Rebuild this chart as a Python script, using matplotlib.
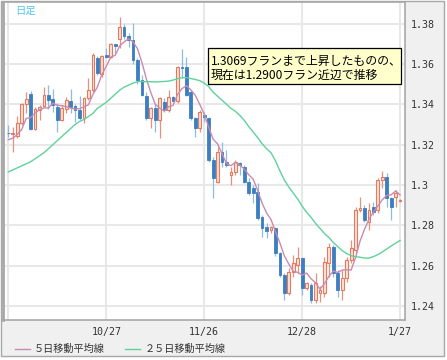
import numpy as np
import pandas as pd
import matplotlib
matplotlib.use("Agg")
import matplotlib.pyplot as plt
from matplotlib.patches import Rectangle

plt.rcParams['font.family'] = ['Noto Sans CJK JP', 'DejaVu Sans']

dates = pd.bdate_range('2020-09-25', '2021-01-27')

opens = [1.3260, 1.3255, 1.3243, 1.3305, 1.3401, 1.3449, 1.3277, 1.3371, 1.3391, 1.3446,
         1.3426, 1.3388, 1.3322, 1.3375, 1.3418, 1.3391, 1.3371, 1.3330, 1.3429, 1.3471,
         1.3631, 1.3550, 1.3644, 1.3636, 1.3697, 1.3722, 1.3784, 1.3738, 1.3718, 1.3619,
         1.3520, 1.3440, 1.3330, 1.3380, 1.3322, 1.3413, 1.3371, 1.3434, 1.3418, 1.3586,
         1.3586, 1.3462, 1.3330, 1.3281, 1.3345, 1.3330, 1.3124, 1.3016, 1.3165, 1.3115,
         1.3049, 1.3066, 1.3107, 1.3091, 1.3016, 1.2983, 1.2967, 1.2843, 1.2790, 1.2777,
         1.2785, 1.2661, 1.2554, 1.2463, 1.2570, 1.2603, 1.2636, 1.2488, 1.2504, 1.2430,
         1.2463, 1.2463, 1.2612, 1.2694, 1.2562, 1.2479, 1.2537, 1.2628, 1.2678, 1.2876,
         1.2884, 1.2818, 1.2892, 1.2876, 1.3024, 1.3041, 1.2934, 1.2939, 1.2920]
highs = [1.3297, 1.3289, 1.3342, 1.3404, 1.3462, 1.3466, 1.3388, 1.3396, 1.3484, 1.3494,
         1.3474, 1.3404, 1.3396, 1.3434, 1.3476, 1.3401, 1.3441, 1.3434, 1.3528, 1.3652,
         1.3639, 1.3644, 1.3680, 1.3702, 1.3701, 1.3834, 1.3800, 1.3751, 1.3801, 1.3630,
         1.3545, 1.3462, 1.3388, 1.3400, 1.3434, 1.3429, 1.3471, 1.3440, 1.3590, 1.3672,
         1.3636, 1.3471, 1.3338, 1.3371, 1.3360, 1.3338, 1.3140, 1.3190, 1.3214, 1.3173,
         1.3091, 1.3124, 1.3115, 1.3099, 1.3033, 1.2999, 1.3008, 1.2851, 1.2810, 1.2797,
         1.2790, 1.2669, 1.2562, 1.2587, 1.2653, 1.2694, 1.2645, 1.2520, 1.2512, 1.2562,
         1.2500, 1.2645, 1.2711, 1.2702, 1.2579, 1.2579, 1.2645, 1.2727, 1.2892, 1.2942,
         1.2901, 1.2909, 1.2917, 1.3033, 1.3069, 1.3058, 1.2942, 1.2975, 1.2930]
lows = [1.3240, 1.3165, 1.3231, 1.3297, 1.3358, 1.3272, 1.3272, 1.3322, 1.3388, 1.3375,
        1.3363, 1.3264, 1.3317, 1.3355, 1.3355, 1.3314, 1.3322, 1.3309, 1.3421, 1.3462,
        1.3545, 1.3537, 1.3627, 1.3627, 1.3652, 1.3677, 1.3722, 1.3685, 1.3600, 1.3500,
        1.3440, 1.3322, 1.3281, 1.3264, 1.3234, 1.3363, 1.3363, 1.3410, 1.3404, 1.3528,
        1.3440, 1.3322, 1.3239, 1.3264, 1.3310, 1.3115, 1.2934, 1.3008, 1.3091, 1.3091,
        1.2999, 1.3049, 1.3049, 1.3008, 1.2950, 1.2909, 1.2826, 1.2744, 1.2735, 1.2760,
        1.2650, 1.2546, 1.2430, 1.2455, 1.2546, 1.2562, 1.2455, 1.2480, 1.2413, 1.2413,
        1.2420, 1.2446, 1.2546, 1.2546, 1.2446, 1.2430, 1.2521, 1.2612, 1.2669, 1.2868,
        1.2818, 1.2777, 1.2851, 1.2859, 1.2983, 1.2892, 1.2826, 1.2892, 1.2915]
closes = [1.3257, 1.3258, 1.3309, 1.3401, 1.3424, 1.3277, 1.3375, 1.3388, 1.3447, 1.3421,
          1.3396, 1.3322, 1.3380, 1.3421, 1.3388, 1.3371, 1.3330, 1.3429, 1.3471, 1.3644,
          1.3553, 1.3639, 1.3636, 1.3697, 1.3690, 1.3784, 1.3738, 1.3718, 1.3619, 1.3520,
          1.3446, 1.3330, 1.3380, 1.3322, 1.3429, 1.3371, 1.3434, 1.3418, 1.3586, 1.3578,
          1.3446, 1.3330, 1.3281, 1.3363, 1.3335, 1.3124, 1.3033, 1.3165, 1.3115, 1.3099,
          1.3066, 1.3115, 1.3099, 1.3016, 1.2958, 1.2958, 1.2835, 1.2785, 1.2773, 1.2793,
          1.2661, 1.2554, 1.2463, 1.2570, 1.2612, 1.2636, 1.2488, 1.2512, 1.2430, 1.2512,
          1.2479, 1.2620, 1.2694, 1.2562, 1.2479, 1.2537, 1.2628, 1.2686, 1.2876, 1.2884,
          1.2826, 1.2876, 1.2868, 1.3024, 1.3041, 1.2934, 1.2892, 1.2962, 1.2924]

# first four 5-day MA values (earlier closes not shown)
ma5_head = [1.3225, 1.3232, 1.3250, 1.3275]

ma25 = [1.3065, 1.3075, 1.3085, 1.3095, 1.3105, 1.3115, 1.3130, 1.3145, 1.3160, 1.3180,
        1.3200, 1.3220, 1.3240, 1.3260, 1.3280, 1.3300, 1.3315, 1.3325, 1.3340, 1.3355,
        1.3380, 1.3395, 1.3410, 1.3430, 1.3450, 1.3470, 1.3485, 1.3495, 1.3505, 1.3512,
        1.3513, 1.3512, 1.3512, 1.3511, 1.3512, 1.3513, 1.3515, 1.3520, 1.3527, 1.3532,
        1.3532, 1.3528, 1.3523, 1.3517, 1.3505, 1.3488, 1.3460, 1.3440, 1.3420, 1.3400,
        1.3380, 1.3365, 1.3345, 1.3320, 1.3290, 1.3262, 1.3235, 1.3205, 1.3180, 1.3160,
        1.3120, 1.3070, 1.3025, 1.2990, 1.2960, 1.2930, 1.2895, 1.2865, 1.2840, 1.2810,
        1.2785, 1.2760, 1.2740, 1.2715, 1.2695, 1.2675, 1.2660, 1.2650, 1.2645, 1.2642,
        1.2638, 1.2638, 1.2645, 1.2655, 1.2668, 1.2683, 1.2698, 1.2712, 1.2725]

tick_dates = ['2020-09-25', '2020-10-27', '2020-11-26', '2020-12-28', '2021-01-27']
tick_labels = ['', '10/27', '11/26', '12/28', '1/27']
y_ticks = [1.24, 1.26, 1.28, 1.30, 1.32, 1.34, 1.36, 1.38]
y_labels = ['1.24', '1.26', '1.28', '1.3', '1.32', '1.34', '1.36', '1.38']

legend_labels = ['５日移動平均線', '２５日移動平均線']
note_lines = ['1.3069フランまで上昇したものの、', '現在は1.2900フラン近辺で推移']

# ---------------------------------------------------------------
W, H = 447, 360
fig = plt.figure(figsize=(W / 100, H / 100), dpi=100)
fig.patch.set_facecolor('white')

def fx(px):
    return px / W

def fy(py):
    return 1 - py / H

# outer panel
fig.patches.append(Rectangle((fx(1), fy(356)), fx(443), (355) / H,
                             transform=fig.transFigure, facecolor='#f0f0f0',
                             edgecolor='#a8a8a8', linewidth=1.0, zorder=-5))

ax = fig.add_axes([fx(3), fy(320), fx(402), (318) / H])
ax.set_zorder(1)
ax.set_facecolor('white')
for s in ax.spines.values():
    s.set_color('#a8a8a8')
    s.set_linewidth(1.2)
ax.spines['left'].set_linewidth(2.0)

o = np.array(opens); h = np.array(highs); l = np.array(lows); c = np.array(closes)
x = np.arange(len(dates))
up = c >= o

cs = pd.Series(c)
ma5 = cs.rolling(5).mean().to_numpy()
ma5[:4] = ma5_head

ax.set_xlim(-1.2, len(dates) - 1 + 1.1)
ax.set_ylim(1.2331, 1.3907)

tick_pos = [int(np.where(dates == pd.Timestamp(d))[0][0]) for d in tick_dates]
ax.set_xticks(tick_pos)
ax.set_xticklabels(tick_labels)
ax.set_yticks(y_ticks)
ax.set_yticklabels(y_labels)
ax.grid(True, color='#e8e8e8', linewidth=1.5, zorder=0)
ax.set_axisbelow(True)
ax.tick_params(axis='both', length=0, labelsize=7.2, colors='#333333')
ax.yaxis.tick_right()
ax.tick_params(axis='y', pad=4)
ax.tick_params(axis='x', pad=5)
for lab in ax.get_xticklabels() + ax.get_yticklabels():
    lab.set_fontfamily('DejaVu Sans Mono')

# wicks
ax.vlines(x[up], l[up], h[up], color='#e8917a', linewidth=0.9, zorder=2)
ax.vlines(x[~up], l[~up], h[~up], color='#8fbbe3', linewidth=0.9, zorder=2)
# bodies
bw = 0.62
ax.bar(x[up], np.maximum(c[up] - o[up], 0.00025), bw, bottom=o[up],
       facecolor='#fde2d8', edgecolor='#e57a5e', linewidth=0.8, zorder=3)
ax.bar(x[~up], np.maximum(o[~up] - c[~up], 0.00025), bw, bottom=c[~up],
       facecolor='#3c7ec0', edgecolor='#3c7ec0', linewidth=0.6, zorder=3)

ax.plot(x, ma5, color='#c98bb1', linewidth=1.0, zorder=4)
ax.plot(x, ma25, color='#5fd29b', linewidth=1.0, zorder=4)

# 日足 label
fig.text(fx(15), fy(11), '日足', color='#55c3ee', fontsize=7.5, va='center', ha='left', zorder=6)

# annotation box
fig.patches.append(Rectangle((fx(208), fy(84)), fx(193), 36 / H, transform=fig.transFigure,
                             facecolor='#ffffcc', edgecolor='black', linewidth=0.9, zorder=5))
fig.text(fx(211), fy(61), note_lines[0], fontsize=8.6, va='center', ha='left', color='black', zorder=6)
fig.text(fx(211), fy(75.5), note_lines[1], fontsize=8.6, va='center', ha='left', color='black', zorder=6)

# legend
fig.lines.append(plt.Line2D([fx(15), fx(30)], [fy(349), fy(349)], transform=fig.transFigure,
                            color='#c98bb1', linewidth=1.0))
fig.text(fx(34), fy(349), legend_labels[0], fontsize=7.3, va='center', ha='left', color='#333333')
fig.lines.append(plt.Line2D([fx(125), fx(140)], [fy(349), fy(349)], transform=fig.transFigure,
                            color='#5fd29b', linewidth=1.0))
fig.text(fx(145), fy(349), legend_labels[1], fontsize=7.3, va='center', ha='left', color='#333333')

fig.savefig('out.png', dpi=100)
